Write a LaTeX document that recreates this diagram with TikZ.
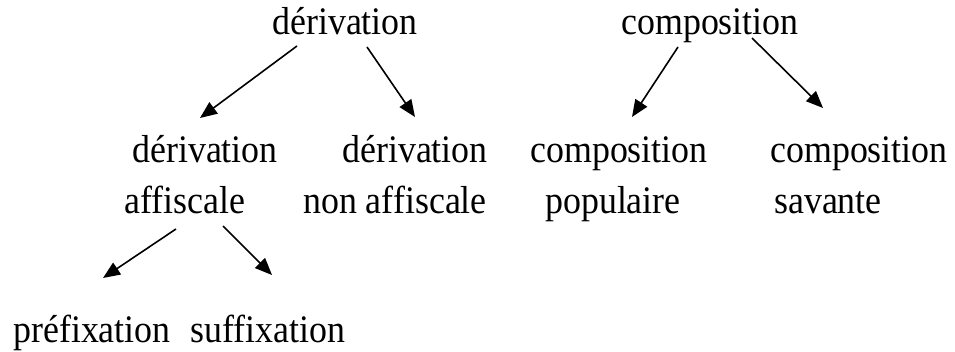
\documentclass[tikz,border=0pt]{standalone}
\usepackage{fontspec}
\setmainfont[FakeStretch=0.92]{Liberation Serif}
\usepackage{tikz}
\usetikzlibrary{calc}
\usetikzlibrary{arrows.meta}
\usetikzlibrary{positioning}

\begin{document}
\begin{tikzpicture}[
        x=1pt, y=-1pt,
        every node/.append style={inner sep=0pt, anchor=base, font=\fontsize{39}{44}\selectfont},
        fleche/.style={-{Triangle[length=17pt,width=14pt]}, line width=1.6pt}
    ]
        \useasboundingbox (0,0) rectangle (955,352);

        \node (der) at (345,35) {dérivation};
        \node (comp) at (710,35) {composition};

        \node (der1) at (205,163) {dérivation};
        \node (der2) at (415,163) {dérivation};
        \node (comp1) at (619,163) {composition};
        \node (comp2) at (859,163) {composition};

        \node (aff) at (185,214) {affiscale};
        \node (naff) at (395,214) {non affiscale};
        \node (pop) at (613,214) {populaire};
        \node (sav) at (828,214) {savante};

        \node (pref) at (92,342) {préfixation};
        \node (suff) at (268,342) {suffixation};

        \draw [fleche] ([xshift=-48pt,yshift=-11pt]der.base) -- ([xshift=-5pt,yshift=45pt]der1.base);
        \draw [fleche] ([xshift=22pt,yshift=-12pt]der.base) -- ([yshift=46pt]der2.base);
        \draw [fleche] ([xshift=-32pt,yshift=-12pt]comp.base) -- ([xshift=13pt,yshift=46pt]comp1.base);
        \draw [fleche] ([xshift=42pt,yshift=-3pt]comp.base) -- ([xshift=-36pt,yshift=55pt]comp2.base);
        \draw [fleche] ([xshift=-9pt,yshift=-15pt]aff.base) -- ([xshift=11pt,yshift=64pt]pref.base);
        \draw [fleche] ([xshift=38pt,yshift=-12pt]aff.base) -- ([xshift=4pt,yshift=67pt]suff.base);
    \end{tikzpicture}
\end{document}
